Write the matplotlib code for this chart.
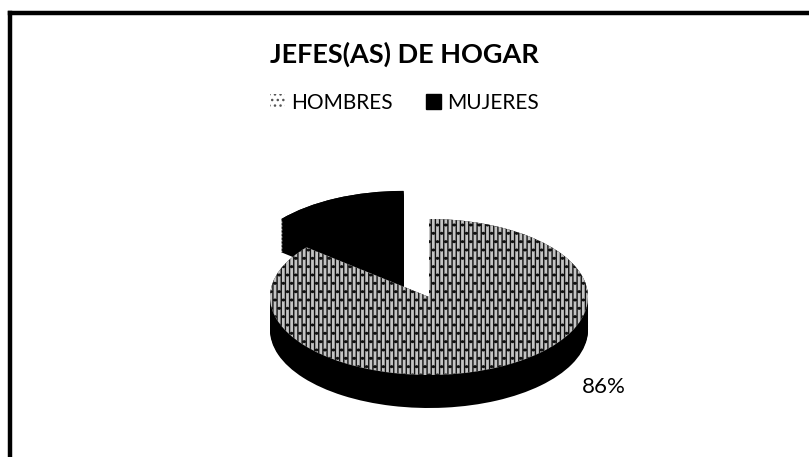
import numpy as np
import matplotlib.pyplot as plt
from matplotlib.patches import Patch

# datos
labels = ['HOMBRES', 'MUJERES']
values = [86, 14]
shown_pct = ['86%', '']

W, H = 809, 457
fig = plt.figure(figsize=(W / 100, H / 100), dpi=100, facecolor='white')
plt.rcParams['hatch.linewidth'] = 1.0

# marco (solo izquierda y arriba, como en el escaneo)
fig.add_artist(plt.Line2D([10 / W, 10 / W], [1 - 13 / H, 0], color='black', lw=3.2))
fig.add_artist(plt.Line2D([10 / W, 1], [1 - 13 / H, 1 - 13 / H], color='black', lw=3.2))

fig.text(0.5, 1 - 54 / H, 'JEFES(AS) DE HOGAR', ha='center', va='center',
         fontsize=19.5, fontweight='bold', family='Lato')

# pastel "3D": elipse aplastada + grosor negro
cx, cy, rx, ry = 429, 297, 159, 78
x0, x1 = cx - 220, cx + 220
y0, y1 = 165, 440
ax = fig.add_axes([x0 / W, 1 - y1 / H, (x1 - x0) / W, (y1 - y0) / H])
ax.axis('off')

thick = 33 / ry
off = (-0.16, 0.36)  # desplazamiento del sector MUJERES

for k in np.linspace(thick, 0, 25):
    w_h, _ = ax.pie(values, startangle=90, counterclock=False,
                    colors=['black', 'none'], center=(0, -k), radius=1)
    w_m, _ = ax.pie(values, startangle=90, counterclock=False,
                    colors=['none', 'black'], center=(off[0], off[1] - k), radius=1)
    for w in w_h + w_m:
        w.set_clip_on(False)

top, _ = ax.pie(values, startangle=90, counterclock=False,
                colors=['#c4c4c4', 'black'], radius=1,
                wedgeprops=dict(linewidth=0))
top[0].set_hatch('||||..')
top[0].set_edgecolor('#111111')
top[1].set_alpha(0)
top_m, _ = ax.pie(values, startangle=90, counterclock=False,
                  colors=['none', 'black'], center=off, radius=1)
for w in top + top_m:
    w.set_clip_on(False)
ax.set_aspect('auto')
ax.set_xlim((x0 - cx) / rx, (x1 - cx) / rx)
ax.set_ylim((cy - y1) / ry, (cy - y0) / ry)

fig.text(604 / W, 1 - 387 / H, shown_pct[0], ha='center', va='center',
         fontsize=16, family='Lato')

handles = [Patch(facecolor='white', edgecolor='#555555', hatch='...', linewidth=0),
           Patch(facecolor='black', edgecolor='black')]
fig.legend(handles, labels, loc='center', bbox_to_anchor=(0.5, 1 - 103 / H),
           ncol=2, frameon=False, handlelength=0.7,
           handleheight=0.7, handletextpad=0.3, columnspacing=1.6,
           prop={'family': 'Lato', 'size': 15})

fig.savefig('out.png', dpi=100)
